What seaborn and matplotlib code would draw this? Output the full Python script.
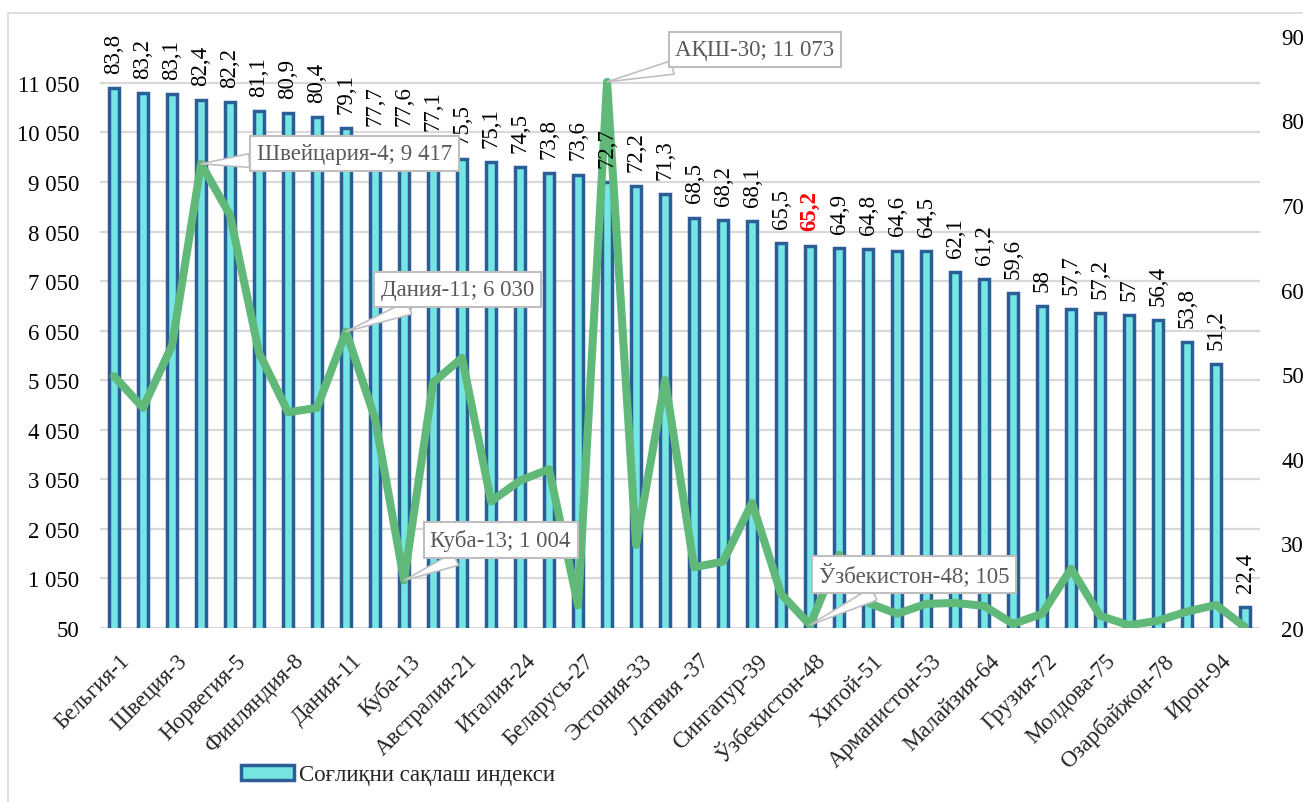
import numpy as np
import matplotlib
matplotlib.use("Agg")
import matplotlib.pyplot as plt
import matplotlib.patches as mpatches
import matplotlib.transforms as mtransforms
import seaborn as sns

# bars: health index (right axis), line: second indicator (left axis)
# only every other country name is printed on the axis, the odd ones are not readable
countries = [
    "Бельгия-1", "Япония-2", "Швеция-3", "Швейцария-4", "Норвегия-5", "Исландия-6",
    "Финляндия-8", "Австрия-9", "Дания-11", "Германия-12", "Куба-13", "Франция-18",
    "Австралия-21", "Канада-22", "Италия-24", "Испания-25", "Беларусь-27", "АҚШ-30",
    "Эстония-33", "Польша-35", "Латвия -37", "Литва-38", "Сингапур-39", "Россия-45",
    "Ўзбекистон-48", "Қозоғистон-50", "Хитой-51", "Туркия-52", "Арманистон-53",
    "Украина-60", "Малайзия-64", "Қирғизистон-70", "Грузия-72", "Тожикистон-74",
    "Молдова-75", "Ҳиндистон-77", "Озарбайжон-78", "Покистон-80", "Ирон-94",
    "Афғонистон-100",
]
health_index = [
    83.8, 83.2, 83.1, 82.4, 82.2, 81.1, 80.9, 80.4, 79.1, 77.7,
    77.6, 77.1, 75.5, 75.1, 74.5, 73.8, 73.6, 72.7, 72.2, 71.3,
    68.5, 68.2, 68.1, 65.5, 65.2, 64.9, 64.8, 64.6, 64.5, 62.1,
    61.2, 59.6, 58, 57.7, 57.2, 57, 56.4, 53.8, 51.2, 22.4,
]
line_values = [
    5130, 4490, 5750, 9417, 8380, 5600, 4400, 4490, 6030, 4270,
    1004, 5000, 5500, 2600, 3020, 3250, 500, 11073, 1720, 5050,
    1270, 1385, 2570, 730, 105, 1520, 550, 330, 530, 550,
    490, 125, 330, 1240, 290, 100, 190, 375, 510, 60,
]
left_ticks = list(range(50, 11051, 1000))
right_ticks = list(range(20, 91, 10))
legend_label = "Соғлиқни сақлаш индекси"

# callouts: (index, text, box centre x, box centre y)
callouts = [
    (3, "Швейцария-4; 9 417", 8.29, 9629),
    (8, "Дания-11; 6 030", 11.83, 6879),
    (17, "АҚШ-30; 11 073", 22.1, 11730),
    (10, "Куба-13; 1 004", 13.33, 1813),
    (24, "Ўзбекистон-48; 105", 27.59, 1126),
]
highlight = 24

BAR_FACE = "#75E6E3"
BAR_EDGE = "#2B5D96"
LINE_COLOR = "#60B879"
GRID = "#d9d9d9"
FS = 16.5

sns.set_theme(style="white")
plt.rcParams["font.family"] = ["Liberation Serif", "DejaVu Serif"]

fig = plt.figure(figsize=(13.03, 8.03), dpi=100)
ax_bar = fig.add_axes([0.0764, 0.2171, 0.8903, 0.7369])
ax_line = ax_bar.twinx()

L_MIN, L_MAX = 50, 12000
R_MIN, R_MAX = 20, 90

# gridlines follow the left axis ticks, drawn behind the bars
for v in left_ticks:
    r = R_MIN + (v - L_MIN) * (R_MAX - R_MIN) / (L_MAX - L_MIN)
    ax_bar.axhline(r, color=GRID, lw=1.6, zorder=0)

sns.barplot(x=countries, y=health_index, ax=ax_bar, color=BAR_FACE,
            edgecolor=BAR_EDGE, linewidth=2.5, width=0.32, saturation=1,
            label=legend_label, zorder=2)
handles, labels = ax_bar.get_legend_handles_labels()
if ax_bar.get_legend() is not None:
    ax_bar.get_legend().remove()

sns.lineplot(x=np.arange(len(line_values)), y=line_values, ax=ax_line,
             color=LINE_COLOR, linewidth=5.8, sort=False)
for ln in ax_line.lines:
    ln.set_solid_joinstyle("round")

ax_bar.set_xlim(-0.5, len(countries) - 0.5)
ax_bar.set_ylim(R_MIN, R_MAX)
ax_line.set_ylim(L_MIN, L_MAX)

# right side: bar scale, left side: line scale
ax_bar.yaxis.tick_right()
ax_line.yaxis.tick_left()
ax_bar.set_yticks(right_ticks)
ax_bar.set_yticklabels([str(t) for t in right_ticks], fontsize=FS)
ax_line.set_yticks(left_ticks)
ax_line.set_yticklabels([f"{t:,}".replace(",", " ") for t in left_ticks], fontsize=FS)
ax_bar.tick_params(axis="y", length=0, pad=15.5, colors="black")
ax_line.tick_params(axis="y", length=0, pad=14.5, colors="black")

ax_bar.set_xticks(range(0, len(countries), 2))
ax_bar.set_xticklabels(countries[::2], rotation=45, ha="right",
                       rotation_mode="anchor", fontsize=FS)
ax_bar.tick_params(axis="x", length=0, pad=16)
shift = mtransforms.ScaledTranslation(5 / 100, 0, fig.dpi_scale_trans)
for lab in ax_bar.get_xticklabels():
    lab.set_transform(lab.get_transform() + shift)
ax_bar.set_xlabel("")
ax_bar.set_ylabel("")
ax_line.set_ylabel("")

for a in (ax_bar, ax_line):
    for s in a.spines.values():
        s.set_visible(False)
    a.grid(False)

# value labels above bars
for i, v in enumerate(health_index):
    txt = f"{v:g}".replace(".", ",")
    red = i == highlight
    ax_line.annotate(txt, xy=(i, v), xycoords=ax_bar.transData,
                     xytext=(0, 11), textcoords="offset points",
                     rotation=90, ha="center", va="bottom", fontsize=FS,
                     color="red" if red else "black",
                     fontweight="bold" if red else "normal", zorder=5)

for idx, text, bx, by in callouts:
    ax_line.annotate(text, xy=(idx, line_values[idx]), xytext=(bx, by),
                     ha="center", va="center", fontsize=FS, color="#595959",
                     bbox=dict(boxstyle="square,pad=0.3", fc="white",
                               ec="#bfbfbf", lw=1.5),
                     arrowprops=dict(arrowstyle="wedge,tail_width=0.6",
                                     fc="white", ec="#bfbfbf", lw=1.2,
                                     shrinkA=0, shrinkB=0),
                     zorder=6)

fig.legend(handles, labels, loc="center", bbox_to_anchor=(398 / 1303, 1 - 776 / 803),
           frameon=False, fontsize=FS, handlelength=2.3, handleheight=0.6,
           handletextpad=0.2)

# chart border
fig.patches.append(mpatches.Rectangle((8 / 1303, -0.05), 1.2, 1 - 14 / 803 + 0.05,
                                      transform=fig.transFigure, fill=False,
                                      ec=GRID, lw=1.2))

fig.savefig("out.png", dpi=100)
